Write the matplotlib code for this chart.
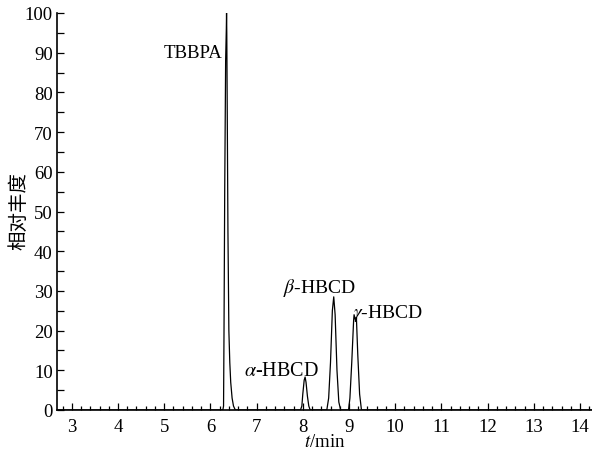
import matplotlib
matplotlib.use("Agg")
import matplotlib.pyplot as plt
from matplotlib.ticker import MultipleLocator

# retention time (min) and relative abundance
t_min = [2.68, 6.27, 6.285, 6.295, 6.31, 6.33, 6.345, 6.35, 6.355, 6.365, 6.38,
         6.40, 6.42, 6.44, 6.47, 6.50, 6.54,
         7.95, 7.98, 8.00, 8.03, 8.05, 8.07, 8.10, 8.13, 8.16,
         8.52, 8.56, 8.60, 8.64, 8.67, 8.70, 8.74, 8.78, 8.82,
         8.99, 9.02, 9.06, 9.10, 9.11, 9.135, 9.16, 9.19, 9.23, 9.27, 14.26]
abundance = [0, 0, 1, 20, 55, 88, 96, 100, 95, 75, 45,
             20, 12, 7, 3, 1, 0,
             0, 1, 4, 7.5, 8.3, 7, 3.5, 1, 0,
             0, 3, 12, 25, 28.5, 24, 10, 2, 0,
             0, 3, 12, 22.5, 24, 22.8, 23.4, 14, 4, 0, 0]

peak_labels = ["TBBPA", r"$\alpha$-HBCD", r"$\beta$-HBCD", r"$\gamma$-HBCD"]
label_pos = [(6.25, 90), (8.34, 10), (7.58, 31), (9.09, 24.5)]
label_ha = ["right", "right", "left", "left"]
label_size = [13.5, 14.5, 14, 14]

plt.rcParams["font.family"] = ["Liberation Serif", "DejaVu Serif"]
plt.rcParams["mathtext.fontset"] = "stix"

fig = plt.figure(figsize=(5.92, 4.56), dpi=100)
ax = fig.add_axes([57 / 592, 45 / 456, 535 / 592, 397 / 456])

ax.plot(t_min, abundance, color="black", lw=0.9)

for text, (x, y), ha, fs in zip(peak_labels, label_pos, label_ha, label_size):
    ax.text(x, y, text, ha=ha, va="center", fontsize=fs)

ax.set_xlim(2.68, 14.26)
ax.set_ylim(0, 100)
ax.xaxis.set_major_locator(MultipleLocator(1))
ax.xaxis.set_minor_locator(MultipleLocator(0.2))
ax.yaxis.set_major_locator(MultipleLocator(10))
ax.yaxis.set_minor_locator(MultipleLocator(5))

for s in ["top", "right"]:
    ax.spines[s].set_visible(False)
for s in ["left", "bottom"]:
    ax.spines[s].set_linewidth(1.2)

ax.tick_params(which="both", direction="in", width=0.9, labelsize=13.5)
ax.tick_params(axis="x", which="major", length=5, pad=6)
ax.tick_params(axis="x", which="minor", length=3)
ax.tick_params(axis="y", which="both", length=5, pad=3)

ax.set_xlabel(r"$t$/min", fontsize=13.5, labelpad=-2)
fig.text(19 / 592, 1 - 211 / 456, "相对丰度", rotation=90, ha="center",
         va="center", fontsize=14, family=["Noto Sans CJK SC", "DejaVu Sans"])

fig.savefig("out.png", dpi=100)
